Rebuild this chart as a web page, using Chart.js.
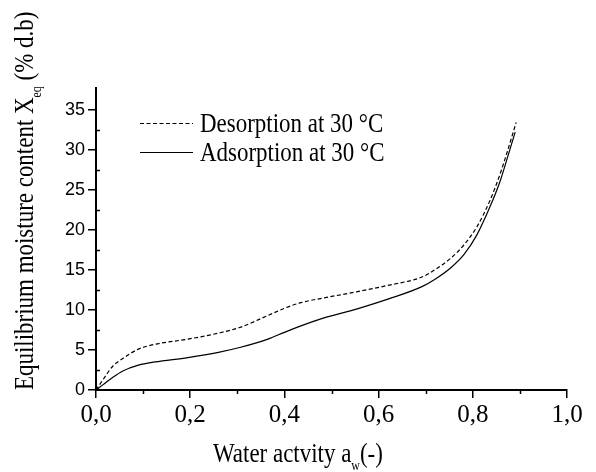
<!DOCTYPE html>
<html>
<head>
<meta charset="utf-8">
<script src="https://cdn.jsdelivr.net/npm/chart.js@4/dist/chart.umd.min.js"></script>
<style>
  html, body { margin: 0; padding: 0; background: #fff; }
  canvas { display: block; }
</style>
</head>
<body>
<canvas id="chart" width="596" height="472"></canvas>
<script>
// water activity (x) and equilibrium moisture content (% d.b)
const awDesorption = [0, 0.015, 0.036, 0.056, 0.09, 0.125, 0.195, 0.26, 0.305, 0.365, 0.40, 0.435, 0.484, 0.553, 0.623, 0.692, 0.719, 0.754, 0.781, 0.809, 0.836, 0.857, 0.874, 0.892];
const xeqDesorption = [0, 1.3, 3.0, 3.9, 5.1, 5.7, 6.35, 7.1, 7.8, 9.3, 10.2, 10.9, 11.5, 12.25, 13.1, 14.1, 15.0, 16.5, 18.1, 20.4, 23.6, 26.8, 29.9, 33.4];

const awAdsorption = [0, 0.015, 0.036, 0.056, 0.09, 0.125, 0.195, 0.26, 0.305, 0.365, 0.40, 0.435, 0.484, 0.553, 0.623, 0.692, 0.719, 0.754, 0.781, 0.809, 0.836, 0.857, 0.874, 0.89];
const xeqAdsorption = [0, 0.67, 1.6, 2.35, 3.1, 3.5, 4.05, 4.7, 5.3, 6.35, 7.2, 8.0, 9.0, 10.1, 11.4, 12.9, 13.8, 15.3, 16.9, 19.4, 22.8, 25.9, 29.1, 32.2];

const seriesLabels = ['Desorption at 30 \u00B0C', 'Adsorption at 30 \u00B0C'];

const xTicks = [0, 0.2, 0.4, 0.6, 0.8, 1.0];
const xMinorTicks = [0.1, 0.3, 0.5, 0.7, 0.9];
const yTicks = [0, 5, 10, 15, 20, 25, 30, 35];
const yMinorTicks = [2.5, 7.5, 12.5, 17.5, 22.5, 27.5, 32.5];

const serif = '"Liberation Serif", "Times New Roman", serif';
const squeeze = 0.85; // the original lettering is a bit narrow

function toPoints(xs, ys) {
  return xs.map((x, i) => ({ x: x, y: ys[i] }));
}

// draws runs of text, some as subscripts, on the current (already translated) ctx
function drawRich(ctx, parts, size) {
  let x = 0;
  parts.forEach(p => {
    const fs = p.sub ? Math.round(size * 0.5) : size;
    ctx.font = fs + 'px ' + serif;
    ctx.fillText(p.t, x, p.sub ? 8 : 0);
    x += ctx.measureText(p.t).width;
  });
}

const paperText = {
  id: 'paperText',
  afterDraw(chart) {
    const ctx = chart.ctx;
    const xs = chart.scales.x, ys = chart.scales.y;
    const area = chart.chartArea;
    ctx.save();
    ctx.strokeStyle = '#000';
    ctx.fillStyle = '#000';
    ctx.lineWidth = 1.5;

    // minor ticks
    ctx.beginPath();
    yMinorTicks.forEach(v => {
      const py = Math.round(ys.getPixelForValue(v)) + 0.5;
      ctx.moveTo(area.left, py);
      ctx.lineTo(area.left + 4, py);
    });
    xMinorTicks.forEach(v => {
      const px = Math.round(xs.getPixelForValue(v)) + 0.5;
      ctx.moveTo(px, area.bottom);
      ctx.lineTo(px, area.bottom + 4);
    });
    ctx.stroke();

    // legend
    ctx.textAlign = 'left';
    ctx.textBaseline = 'alphabetic';
    const legendY = [123, 152];
    chart.data.datasets.forEach((ds, i) => {
      ctx.lineWidth = 1.2;
      ctx.setLineDash(ds.borderDash || []);
      ctx.beginPath();
      ctx.moveTo(140, legendY[i] + 0.5);
      ctx.lineTo(193, legendY[i] + 0.5);
      ctx.stroke();
      ctx.setLineDash([]);
      ctx.save();
      ctx.translate(200, legendY[i] + 9);
      ctx.scale(squeeze, 1);
      ctx.font = '27px ' + serif;
      ctx.fillText(ds.label, 0, 0);
      ctx.restore();
    });

    // x title
    ctx.save();
    ctx.translate(213, 462);
    ctx.scale(squeeze, 1);
    drawRich(ctx, [{ t: 'Water actvity a' }, { t: 'w', sub: true }, { t: '(-)' }], 27);
    ctx.restore();

    // y title
    ctx.save();
    ctx.translate(33, 390);
    ctx.rotate(-Math.PI / 2);
    ctx.scale(squeeze, 1);
    drawRich(ctx, [{ t: 'Equilibrium moisture content X' }, { t: 'eq', sub: true }, { t: ' (% d.b)' }], 27);
    ctx.restore();

    ctx.restore();
  }
};

new Chart(document.getElementById('chart'), {
  type: 'line',
  data: {
    datasets: [
      {
        label: seriesLabels[0],
        data: toPoints(awDesorption, xeqDesorption),
        borderColor: '#000',
        borderWidth: 1.2,
        borderDash: [4, 2.5],
        pointRadius: 0,
        fill: false,
        cubicInterpolationMode: 'monotone'
      },
      {
        label: seriesLabels[1],
        data: toPoints(awAdsorption, xeqAdsorption),
        borderColor: '#000',
        borderWidth: 1.2,
        pointRadius: 0,
        fill: false,
        cubicInterpolationMode: 'monotone'
      }
    ]
  },
  options: {
    responsive: false,
    animation: false,
    devicePixelRatio: 1,
    layout: { padding: { top: 88, right: 29, left: 0, bottom: 0 } },
    plugins: {
      legend: { display: false },
      tooltip: { enabled: false }
    },
    scales: {
      x: {
        type: 'linear',
        min: 0,
        max: 1,
        afterBuildTicks: s => { s.ticks = xTicks.map(v => ({ value: v })); },
        afterFit: s => { s.height = 82; },
        border: { display: true, color: '#000', width: 2 },
        grid: { drawOnChartArea: false, drawTicks: true, tickLength: 8, color: '#000', lineWidth: 1.5 },
        ticks: {
          color: '#000',
          padding: 2,
          maxRotation: 0,
          font: { family: serif, size: 25 },
          callback: v => v.toFixed(1).replace('.', ',')
        }
      },
      y: {
        type: 'linear',
        min: 0,
        max: 37.7,
        afterBuildTicks: s => { s.ticks = yTicks.map(v => ({ value: v })); },
        afterFit: s => { s.width = 96; },
        border: { display: true, color: '#000', width: 2 },
        grid: { drawOnChartArea: false, drawTicks: true, tickLength: 8, color: '#000', lineWidth: 1.5 },
        ticks: {
          color: '#000',
          padding: 3,
          font: { family: '"Liberation Sans", Arial, sans-serif', size: 18 },
          callback: v => String(v)
        }
      }
    }
  },
  plugins: [paperText]
});
</script>
</body>
</html>
